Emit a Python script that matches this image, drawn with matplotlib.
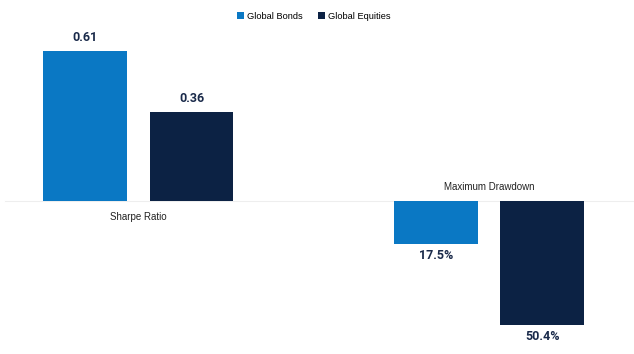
import numpy as np
import matplotlib.pyplot as plt

categories = ['Sharpe Ratio', 'Maximum Drawdown']
series = ['Global Bonds', 'Global Equities']
bonds = [0.61, -0.175]
equities = [0.36, -0.504]
bond_labels = ['0.61', '17.5%']
equity_labels = ['0.36', '50.4%']

colors = ['#0a78c4', '#0c2244']
num_font = ['Roboto', 'DejaVu Sans']
txt_font = ['Liberation Sans', 'DejaVu Sans']

fig = plt.figure(figsize=(6.34, 3.54), dpi=100)
ax = fig.add_axes([0, 0, 1, 1])

x = np.arange(len(categories))
w = 0.239
off = 0.152

b1 = ax.bar(x - off, bonds, w, color=colors[0], label=series[0])
b2 = ax.bar(x + off, equities, w, color=colors[1], label=series[1])

ax.axhline(0, xmin=5 / 634, xmax=1, color='#eeeeee', lw=0.8, zorder=0)

for bars, labels in [(b1, bond_labels), (b2, equity_labels)]:
    for rect, lab in zip(bars, labels):
        h = rect.get_height()
        cx = rect.get_x() + rect.get_width() / 2
        if h >= 0:
            ax.annotate(lab, (cx, h), xytext=(0, 5), textcoords='offset points',
                        ha='center', va='bottom', fontsize=9, fontweight='bold',
                        color='#1a2a4a', family=num_font)
        else:
            ax.annotate(lab, (cx, h), xytext=(0, -3.5), textcoords='offset points',
                        ha='center', va='top', fontsize=9, fontweight='bold',
                        color='#1a2a4a', family=num_font)

# category names sit on the opposite side of the zero line
for xi, cat, v in zip(x, categories, bonds):
    if v >= 0:
        ax.annotate(cat, (xi, 0), xytext=(0, -8), textcoords='offset points',
                    ha='center', va='top', fontsize=7, color='#222222',
                    family=txt_font)
    else:
        ax.annotate(cat, (xi, 0), xytext=(0, 6), textcoords='offset points',
                    ha='center', va='bottom', fontsize=7, color='#222222',
                    family=txt_font)

ax.set_xlim(-0.394, 1.413)
ax.set_ylim(-0.622, 0.815)
ax.axis('off')

leg = ax.legend(loc='upper center', bbox_to_anchor=(0.495, 0.99), ncol=2,
                frameon=False, handlelength=0.8, handleheight=0.8,
                handletextpad=0.3, columnspacing=1.6,
                prop={'family': txt_font, 'size': 6.7})

fig.savefig('out.png', dpi=100)
